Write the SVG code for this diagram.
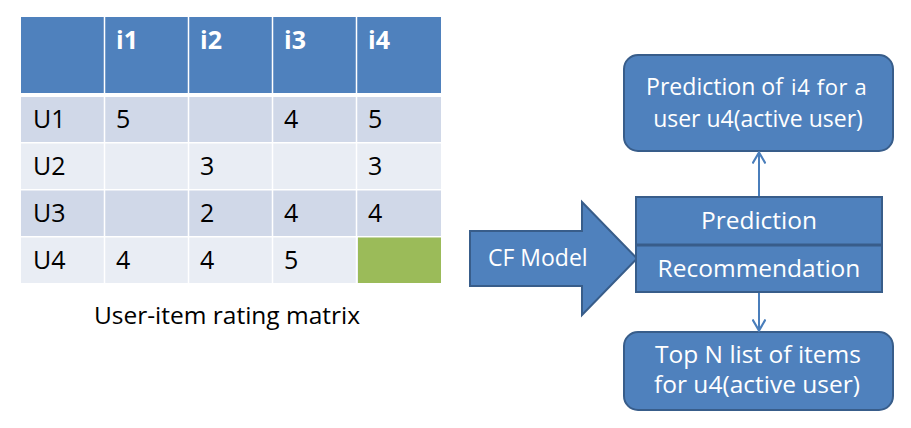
<svg xmlns="http://www.w3.org/2000/svg" width="911" height="428" viewBox="0 0 911 428">
<defs>
<style>
text { font-family: "Open Sans", "Liberation Sans", sans-serif; }
.hd { fill: #4F81BD; }
.r1 { fill: #D0D8E8; }
.r2 { fill: #E9EDF4; }
.grid { stroke: #FFFFFF; stroke-width: 1.5; }
.th { font-size: 25px; font-weight: bold; fill: #FFFFFF; }
.td { font-size: 25px; fill: #000000; }
.box { fill: #4F81BD; stroke: #385D8A; stroke-width: 2; }
.wt { fill: #FFFFFF; }
.conn { stroke: #4A7EBB; stroke-width: 2; fill: none; }
</style>
<marker id="arr" viewBox="0 0 14 14" refX="12" refY="7" markerWidth="14" markerHeight="14" markerUnits="userSpaceOnUse" orient="auto">
<path d="M1,0.5 L12,7 L1,13.5" fill="none" stroke="#4A7EBB" stroke-width="2.2"/>
</marker>
</defs>
<rect width="911" height="428" fill="#FFFFFF"/>

<g id="matrix">
<rect class="hd" x="21" y="17" width="420" height="76"/>
<rect class="r1" x="21" y="97" width="420" height="45"/>
<rect class="r2" x="21" y="143.5" width="420" height="45.5"/>
<rect class="r1" x="21" y="190.5" width="420" height="45.5"/>
<rect class="r2" x="21" y="237.5" width="420" height="45.5"/>
<rect x="358" y="237.5" width="83" height="45.5" fill="#9BBB59"/>
<g class="grid">
<line x1="104.5" y1="17" x2="104.5" y2="283"/>
<line x1="188.5" y1="17" x2="188.5" y2="283"/>
<line x1="272.5" y1="17" x2="272.5" y2="283"/>
<line x1="356.5" y1="17" x2="356.5" y2="283"/>
</g>
<text class="th" x="116" y="49">i1</text>
<text class="th" x="200" y="49">i2</text>
<text class="th" x="284" y="49">i3</text>
<text class="th" x="368" y="49">i4</text>
<text class="td" x="33" y="128">U1</text>
<text class="td" x="116" y="128">5</text>
<text class="td" x="284" y="128">4</text>
<text class="td" x="368" y="128">5</text>
<text class="td" x="33" y="175">U2</text>
<text class="td" x="200" y="175">3</text>
<text class="td" x="368" y="175">3</text>
<text class="td" x="33" y="222">U3</text>
<text class="td" x="200" y="222">2</text>
<text class="td" x="284" y="222">4</text>
<text class="td" x="368" y="222">4</text>
<text class="td" x="33" y="269">U4</text>
<text class="td" x="116" y="269">4</text>
<text class="td" x="200" y="269">4</text>
<text class="td" x="284" y="269">5</text>
<text x="227" y="324" font-size="24.5" text-anchor="middle" fill="#000000">User-item rating matrix</text>
</g>

<g id="cf-model">
<polygon class="box" points="470,231 582,231 582,202 637,258.5 582,315 582,286 470,286"/>
<text class="wt" x="488" y="266" font-size="23">CF Model</text>
</g>

<g id="prediction">
<rect class="box" x="636" y="197" width="246" height="47.5"/>
<text class="wt" x="759" y="229" font-size="24.5" text-anchor="middle">Prediction</text>
</g>

<g id="recommendation">
<rect class="box" x="636" y="245.5" width="246" height="46.5"/>
<text class="wt" x="759" y="277" font-size="24.5" text-anchor="middle">Recommendation</text>
</g>

<g id="prediction-output">
<rect class="box" x="624" y="55" width="269" height="96" rx="14" ry="14"/>
<text class="wt" y="95"><tspan x="646" font-size="24.5" textLength="137" lengthAdjust="spacingAndGlyphs">Prediction of</tspan> <tspan x="791" font-size="22" letter-spacing="0.6">i4 for a</tspan></text>
<text class="wt" x="758" y="127" font-size="23" text-anchor="middle">user u4(active user)</text>
</g>

<g id="topn-output">
<rect class="box" x="624" y="332" width="269" height="78" rx="14" ry="14"/>
<text class="wt" x="758" y="363" font-size="24.5" text-anchor="middle">Top N list of items</text>
<text class="wt" x="757" y="393" font-size="24.5" text-anchor="middle">for u4(active user)</text>
</g>

<g id="connectors">
<line class="conn" x1="759" y1="196" x2="759" y2="152.5" marker-end="url(#arr)"/>
<line class="conn" x1="759" y1="293" x2="759" y2="330.5" marker-end="url(#arr)"/>
</g>
</svg>
